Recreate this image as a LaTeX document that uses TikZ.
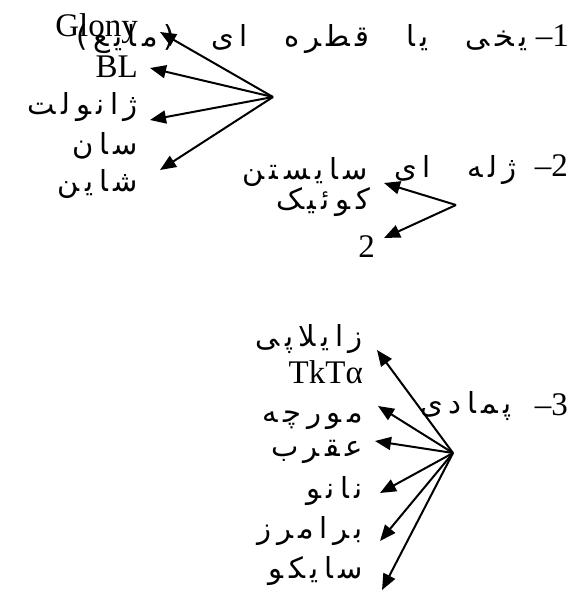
\documentclass[tikz,border=0pt]{standalone}
\usepackage{fontspec}
\usetikzlibrary{arrows.meta}
\setmainfont{Liberation Serif}
\TeXXeTstate=1
\newfontfamily\arabicfont[Script=Arabic,LetterSpace=19,WordSpace=2.5]{DejaVu Sans}
\begin{document}
\begin{tikzpicture}[x=1pt,y=-1pt,
  lat/.style={font=\fontsize{33}{33}\selectfont, inner sep=0pt, anchor=base east},
  ar/.style={font=\arabicfont\fontsize{29}{29}\selectfont, inner sep=0pt, anchor=base east},
  arr/.style={line width=2pt, -{Triangle[length=16pt,width=13pt]}}]
\useasboundingbox (0,0) rectangle (583,593);
% group 1
\node[lat] (n1) at (569,47) {–1};
\node[ar] (t1) at (528,47) {\beginR یخی یا قطره ای (مایع)\endR};
\node[lat] (glony) at (138,37) {Glony};
\node[lat] (bl) at (138,78) {BL};
\node[ar] (jan) at (138,115) {\beginR ژانولت\endR};
\node[ar] (san) at (138,155) {\beginR سان\endR};
\node[ar] (shayn) at (138,192) {\beginR شاین\endR};
\coordinate (h1) at (273,97);
\draw[arr] (h1) -- ([xshift=22pt,yshift=5pt]glony.base east);
\draw[arr] (h1) -- ([xshift=12pt,yshift=10pt]bl.base east);
\draw[arr] (h1) -- ([xshift=12pt,yshift=-5pt]jan.base east);
\draw[arr] (h1) -- ([xshift=22pt,yshift=22pt]shayn.base east);
% group 2
\node[lat] (n2) at (568,177) {–2};
\node[ar] (t2) at (517,178) {\beginR ژله ای\endR};
\node[ar] (sistan) at (368,180) {\beginR سایستن\endR};
\node[ar] (kuik) at (370,210) {\beginR کوئیک\endR};
\node[lat] (two) at (375,257) {2};
\coordinate (h2) at (456,205);
\draw[arr] (h2) -- ([xshift=16pt,yshift=-3pt]sistan.base east);
\draw[arr] (h2) -- ([xshift=9pt,yshift=19pt]two.base east);
% group 3
\node[lat] (n3) at (568,415) {–3};
\node[ar] (t3) at (512,413) {\beginR پمادی\endR};
\node[ar] (zay) at (363,346) {\beginR زایلاپی\endR};
\node[lat] (tkta) at (363,383) {TkTα};
\node[ar] (mur) at (363,422) {\beginR مورچه\endR};
\node[ar] (aqr) at (363,456) {\beginR عقرب\endR};
\node[ar] (nano) at (363,498) {\beginR نانو\endR};
\node[ar] (bar) at (363,538) {\beginR برامرز\endR};
\node[ar] (say) at (363,578) {\beginR سایکو\endR};
\coordinate (h3) at (453,453);
\draw[arr] (h3) -- ([xshift=14pt,yshift=33pt]tkta.base east);
\draw[arr] (h3) -- ([xshift=15pt,yshift=16pt]mur.base east);
\draw[arr] (h3) -- ([xshift=12pt,yshift=15pt]aqr.base east);
\draw[arr] (h3) -- ([xshift=17pt,yshift=5pt]nano.base east);
\draw[arr] (h3) -- ([xshift=17pt,yshift=-3pt]bar.base east);
\draw[arr] (h3) -- ([xshift=19pt,yshift=-12pt]say.base east);
\end{tikzpicture}
\end{document}
